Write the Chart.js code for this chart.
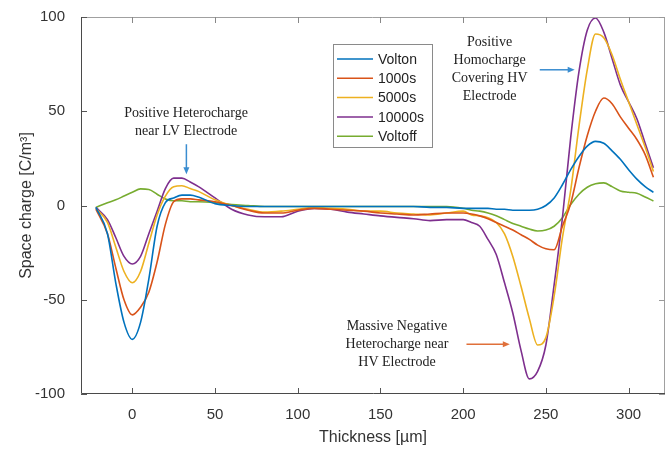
<!DOCTYPE html>
<html>
<head>
<meta charset="utf-8">
<script src="https://cdn.jsdelivr.net/npm/chart.js@4.4.1/dist/chart.umd.min.js"></script>
<style>
html, body { margin: 0; padding: 0; background: #fff; }
canvas { display: block; }
</style>
</head>
<body>
<canvas id="chart" width="671" height="449"></canvas>
<script>
// thickness positions (µm) shared by every curve
const thickness = [-22, -15, -10, -5, 0, 5, 10, 15, 20, 25, 30, 35, 40, 50, 60, 70, 80, 90, 100, 110,
    120, 130, 140, 150, 160, 170, 180, 190, 200, 205, 210, 215, 220, 225, 230, 235, 240, 245, 250, 255,
    260, 265, 270, 275, 280, 285, 290, 295, 300, 305, 310, 315];

// space charge (C/m3)
const volton = [-1, -15, -41, -62, -71, -62, -39, -11, 1.5, 4, 5.5, 5.5, 4.5, 1, 0, -0.5, -0.5, -0.5, -0.5, -0.5,
    -0.5, -0.5, -0.5, -0.5, -0.5, -0.5, -1, -1, -1.5, -1.5, -1.5, -1.5, -2, -2, -2.5, -2.5, -2.5, -2, 0, 4,
    11, 19, 26, 31.5, 34, 33, 29, 24.5, 19, 14, 10, 7];
const s1000 = [-2, -15, -33, -50, -58, -54, -46, -30, -10, 2, 3.5, 3.5, 3, 2, 0, -2.5, -4, -4, -2.5, -1.5,
    -2, -2.5, -3, -4, -4.5, -5, -4.5, -4, -4, -4.5, -5.5, -7, -9, -11, -13, -15.5, -18, -21, -23, -23.5,
    -11, 1, 20, 37, 50, 57, 54, 47, 41, 35, 27, 15];
const s5000 = [-1.5, -9, -22, -35, -41, -35, -20, -5, 5, 10, 10.5, 9, 7.5, 3, 0, -2, -3.5, -3, -2, -1,
    -1.5, -2, -3, -3, -4, -4.5, -5, -4, -3, -5, -5.5, -6.5, -9, -15, -27, -43, -60, -74, -70, -48,
    -17, 8, 42, 72, 91, 89, 80, 67, 55, 43, 31, 18];
const s10000 = [-1, -7.5, -17, -27, -31, -27, -15, -3, 9, 14.5, 14.5, 12.5, 10, 4, -2, -5, -6, -6, -3, -1.5,
    -2, -3.5, -4.5, -5.5, -6.3, -7, -8, -7.5, -7.5, -9, -11, -18, -26, -41, -57, -77, -92, -88, -74, -42,
    -6.5, 36, 71, 93, 99.5, 92, 78, 64, 55, 46, 33, 20];
const voltoff = [-1, 1.5, 3, 5, 7, 8.8, 8.5, 6, 3.5, 2.5, 2.5, 2, 2, 1.5, 0.5, 0, -0.5, -0.5, -0.5, -0.5,
    -0.5, -0.5, -0.5, -0.5, -0.5, -0.5, -0.5, -0.5, -1.5, -2.5, -3, -4, -5.5, -7.5, -9.5, -11, -12.5, -13.5, -13, -11,
    -6.5, 0.5, 6, 9.7, 11.5, 12, 10, 7.7, 7, 6.5, 4.5, 2.4];

const seriesNames = ['Volton', '1000s', '5000s', '10000s', 'Voltoff'];
const seriesValues = [volton, s1000, s5000, s10000, voltoff];
const seriesColors = ['#0072BD', '#D95319', '#EDB120', '#7E2F8E', '#77AC30'];

const xLimits = [-31, 322];
const yLimits = [-100, 100];

// text notes, anchored in data units
const notes = [
    { lines: ['Positive Heterocharge', 'near LV Electrode'], x: 32.5, y: 49 },
    { lines: ['Positive', 'Homocharge', 'Covering HV', 'Electrode'], x: 216, y: 86.8 },
    { lines: ['Massive Negative', 'Heterocharge near', 'HV Electrode'], x: 160, y: -64 }
];
const arrows = [
    { from: [32.7, 32.5], to: [32.7, 16.6], color: '#3a8dd0' },
    { from: [246.3, 72], to: [267.4, 72], color: '#3a8dd0' },
    { from: [202, -73.6], to: [228.2, -73.6], color: '#e0703a' }
];

function drawArrow(ctx, x1, y1, x2, y2, color) {
    const ang = Math.atan2(y2 - y1, x2 - x1);
    ctx.strokeStyle = color;
    ctx.fillStyle = color;
    ctx.lineWidth = 1.5;
    ctx.beginPath();
    ctx.moveTo(x1, y1);
    ctx.lineTo(x2 - 5 * Math.cos(ang), y2 - 5 * Math.sin(ang));
    ctx.stroke();
    ctx.beginPath();
    ctx.moveTo(x2, y2);
    ctx.lineTo(x2 - 7 * Math.cos(ang) + 3 * Math.sin(ang), y2 - 7 * Math.sin(ang) - 3 * Math.cos(ang));
    ctx.lineTo(x2 - 7 * Math.cos(ang) - 3 * Math.sin(ang), y2 - 7 * Math.sin(ang) + 3 * Math.cos(ang));
    ctx.closePath();
    ctx.fill();
}

// MATLAB-like box with inward ticks, legend and notes
const figureExtras = {
    id: 'figureExtras',
    afterDatasetsDraw(chart) {
        const { ctx, chartArea: a, scales: { x, y } } = chart;
        ctx.save();
        ctx.lineWidth = 1;

        ctx.strokeStyle = '#a0a0a0';
        ctx.beginPath();
        ctx.moveTo(a.left, a.top + 0.5);
        ctx.lineTo(a.right - 0.5, a.top + 0.5);
        ctx.lineTo(a.right - 0.5, a.bottom);
        ctx.stroke();

        x.ticks.forEach(t => {
            const px = Math.round(x.getPixelForValue(t.value)) + 0.5;
            ctx.strokeStyle = '#555';
            ctx.beginPath(); ctx.moveTo(px, a.bottom); ctx.lineTo(px, a.bottom - 6); ctx.stroke();
            ctx.strokeStyle = '#888';
            ctx.beginPath(); ctx.moveTo(px, a.top); ctx.lineTo(px, a.top + 6); ctx.stroke();
        });
        y.ticks.forEach(t => {
            const py = Math.round(y.getPixelForValue(t.value)) + 0.5;
            ctx.strokeStyle = '#555';
            ctx.beginPath(); ctx.moveTo(a.left, py); ctx.lineTo(a.left + 6, py); ctx.stroke();
            ctx.strokeStyle = '#999';
            ctx.beginPath(); ctx.moveTo(a.right, py); ctx.lineTo(a.right - 6, py); ctx.stroke();
        });

        ctx.strokeStyle = '#4a4a4a';
        ctx.beginPath();
        ctx.moveTo(a.left + 0.5, a.top);
        ctx.lineTo(a.left + 0.5, a.bottom - 0.5);
        ctx.lineTo(a.right, a.bottom - 0.5);
        ctx.stroke();

        // legend
        const lx = 333.5, ly = 44.5, lw = 99, lh = 103;
        ctx.fillStyle = '#fff';
        ctx.fillRect(lx, ly, lw, lh);
        ctx.strokeStyle = '#8a8a8a';
        ctx.strokeRect(lx, ly, lw, lh);
        ctx.font = '14px "Liberation Sans", Arial, sans-serif';
        ctx.textBaseline = 'middle';
        ctx.textAlign = 'left';
        chart.data.datasets.forEach((ds, i) => {
            const ry = 59 + i * 19.3;
            ctx.strokeStyle = ds.borderColor;
            ctx.lineWidth = 1.5;
            ctx.beginPath(); ctx.moveTo(337, ry); ctx.lineTo(373, ry); ctx.stroke();
            ctx.fillStyle = '#222';
            ctx.fillText(ds.label, 378, ry + 1);
        });

        // notes
        ctx.font = '14px "Liberation Serif", "Times New Roman", serif';
        ctx.textAlign = 'center';
        ctx.fillStyle = '#222';
        notes.forEach(n => {
            const cx = x.getPixelForValue(n.x);
            const cy = y.getPixelForValue(n.y);
            n.lines.forEach((s, k) => ctx.fillText(s, cx, cy + k * 18.2));
        });
        arrows.forEach(ar => {
            drawArrow(ctx, x.getPixelForValue(ar.from[0]), y.getPixelForValue(ar.from[1]),
                x.getPixelForValue(ar.to[0]), y.getPixelForValue(ar.to[1]), ar.color);
        });
        ctx.restore();
    }
};

const tickFont = { family: '"Liberation Sans", Arial, sans-serif', size: 15 };
const titleFont = { family: '"Liberation Sans", Arial, sans-serif', size: 16 };

new Chart(document.getElementById('chart'), {
    type: 'line',
    data: {
        datasets: seriesNames.map((name, i) => ({
            label: name,
            data: thickness.map((t, k) => ({ x: t, y: seriesValues[i][k] })),
            borderColor: seriesColors[i],
            backgroundColor: seriesColors[i],
            borderWidth: 1.6,
            pointRadius: 0,
            cubicInterpolationMode: 'monotone',
            fill: false
        }))
    },
    options: {
        responsive: false,
        animation: false,
        devicePixelRatio: 1,
        layout: { padding: { top: 15, right: 6, left: 0, bottom: 0 } },
        plugins: { legend: { display: false }, tooltip: { enabled: false } },
        scales: {
            x: {
                type: 'linear',
                min: xLimits[0],
                max: xLimits[1],
                grid: { display: false },
                border: { display: false },
                ticks: { stepSize: 50, includeBounds: false, font: tickFont, color: '#333', padding: 4, maxRotation: 0 },
                title: { display: true, text: 'Thickness [µm]', font: titleFont, color: '#333', padding: 2 },
                afterFit: s => { s.height = 55; }
            },
            y: {
                min: yLimits[0],
                max: yLimits[1],
                grid: { display: false },
                border: { display: false },
                ticks: { stepSize: 50, font: tickFont, color: '#333', padding: 8 },
                title: { display: true, text: 'Space charge [C/m³]', font: titleFont, color: '#333', padding: 17 },
                afterFit: s => { s.width = 81; }
            }
        }
    },
    plugins: [figureExtras]
});
</script>
</body>
</html>
